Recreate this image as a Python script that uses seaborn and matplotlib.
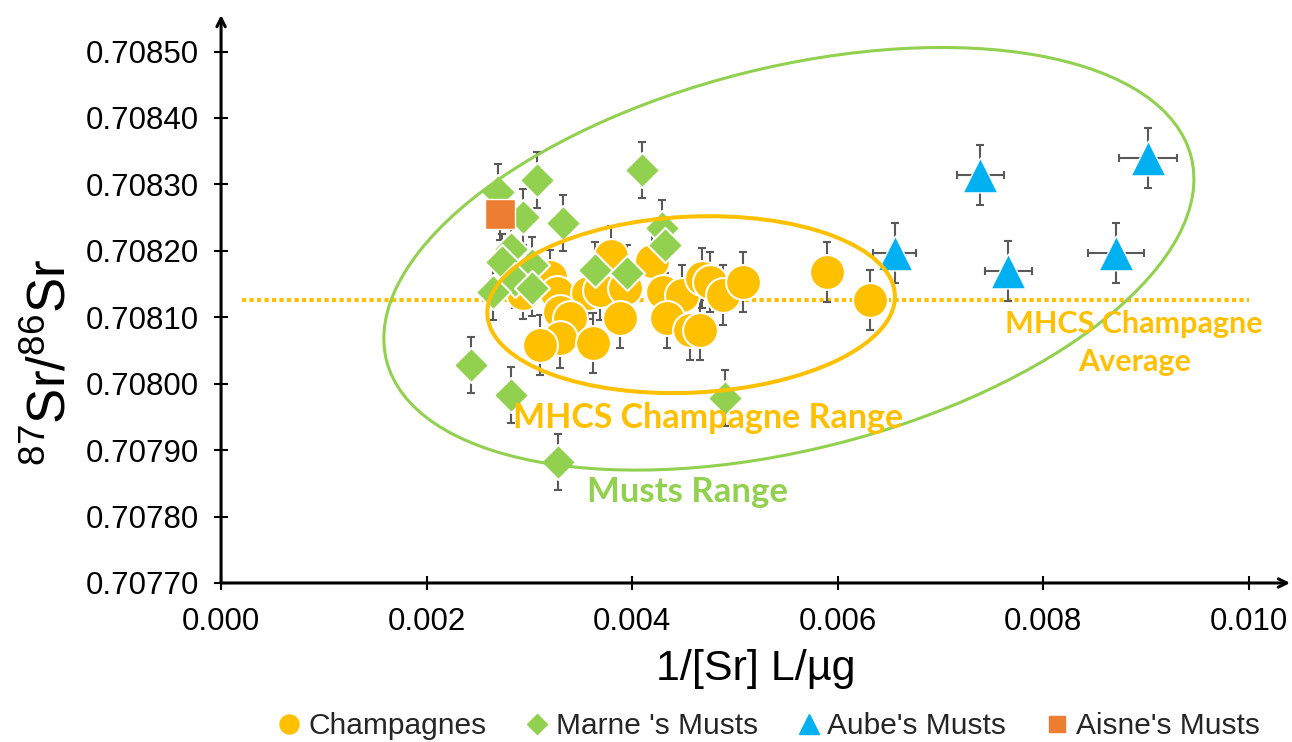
import matplotlib
matplotlib.use("Agg")
import matplotlib.pyplot as plt
import matplotlib.transforms as mtransforms
from matplotlib.patches import Ellipse
from matplotlib.lines import Line2D
import seaborn as sns

# ---- values ----
champ_x = [0.003796, 0.004194, 0.003204, 0.002942, 0.003272, 0.003573, 0.003689,
           0.003932, 0.003301, 0.003398, 0.003301, 0.003107, 0.003621, 0.003883,
           0.004301, 0.004485, 0.004680, 0.004757, 0.004883, 0.005078, 0.004340,
           0.004563, 0.004660, 0.005893, 0.006311]
champ_y = [0.708192, 0.708185, 0.708161, 0.708137, 0.708137, 0.708137, 0.708141,
           0.708144, 0.708108, 0.708099, 0.708069, 0.708058, 0.708061, 0.708099,
           0.708138, 0.708134, 0.708159, 0.708153, 0.708134, 0.708153, 0.708099,
           0.708081, 0.708081, 0.708168, 0.708126]
champ_yerr = [0.000045, 0.000045, 0.000040, 0.000040, 0.000045, 0.000040, 0.000045,
              0.000045, 0.000045, 0.000040, 0.000045, 0.000045, 0.000045, 0.000045,
              0.000045, 0.000045, 0.000045, 0.000045, 0.000045, 0.000045, 0.000045,
              0.000045, 0.000045, 0.000045, 0.000045]

marne_x = [0.004097, 0.003078, 0.002699, 0.002942, 0.003330, 0.004291, 0.004320,
           0.002816, 0.002738, 0.003029, 0.002864, 0.003029, 0.002650, 0.003641,
           0.003951, 0.002427, 0.002816, 0.004903, 0.003282]
marne_y = [0.708322, 0.708307, 0.708289, 0.708251, 0.708242, 0.708235, 0.708209,
           0.708202, 0.708183, 0.708179, 0.708156, 0.708144, 0.708138, 0.708171,
           0.708167, 0.708028, 0.707983, 0.707979, 0.707882]
marne_yerr = [0.000042, 0.000042, 0.000042, 0.000042, 0.000042, 0.000042, 0.000042,
              0.000042, 0.000042, 0.000042, 0.000042, 0.000042, 0.000042, 0.000042,
              0.000042, 0.000042, 0.000042, 0.000042, 0.000042]

aube_x = [0.006553, 0.007388, 0.007660, 0.008709, 0.009019]
aube_y = [0.708197, 0.708314, 0.708170, 0.708197, 0.708340]
aube_xerr = [0.00021, 0.00023, 0.00023, 0.00027, 0.00028]
aube_yerr = [0.000045, 0.000045, 0.000045, 0.000045, 0.000045]

aisne_x = [0.002718]
aisne_y = [0.708256]
aisne_yerr = [0.000040]

mhcs_average = 0.708126

x_ticks = [0.000, 0.002, 0.004, 0.006, 0.008, 0.010]
y_ticks = [0.70770, 0.70780, 0.70790, 0.70800, 0.70810,
           0.70820, 0.70830, 0.70840, 0.70850]

YELLOW = "#FFC000"
GREEN = "#92D050"
BLUE = "#00B0F0"
ORANGE = "#ED7D31"
GREY = "#595959"

sns.set_theme(style="white")
plt.rcParams["font.family"] = ["Liberation Sans", "DejaVu Sans"]
plt.rcParams["mathtext.default"] = "regular"

fig = plt.figure(figsize=(12.92, 7.42), dpi=100)
ax = fig.add_axes([0.1711, 0.2143, 0.8274, 0.7655])
ax.set_xlim(0, 0.0104)
ax.set_ylim(0.70770, 0.708555)

# average line
ax.hlines(mhcs_average, 0.0002, 0.0100, colors=YELLOW, lw=3,
          linestyles=(0, (1, 0.8)), zorder=1)

# error bars behind markers
err_kw = dict(fmt="none", ecolor=GREY, elinewidth=1.5, capsize=3, capthick=1.5, zorder=2)
ax.errorbar(champ_x, champ_y, yerr=champ_yerr, **err_kw)
ax.errorbar(marne_x, marne_y, yerr=marne_yerr, **err_kw)
ax.errorbar(aube_x, aube_y, xerr=aube_xerr, yerr=aube_yerr, **err_kw)
ax.errorbar(aisne_x, aisne_y, yerr=aisne_yerr, **err_kw)

sns.scatterplot(x=champ_x, y=champ_y, marker="o", s=630, color=YELLOW,
                edgecolor="white", linewidth=1.5, ax=ax, zorder=3)
sns.scatterplot(x=marne_x, y=marne_y, marker="D", s=320, color=GREEN,
                edgecolor="white", linewidth=1.5, ax=ax, zorder=3)
sns.scatterplot(x=aisne_x, y=aisne_y, marker="s", s=466, color=ORANGE,
                edgecolor="white", linewidth=1.0, ax=ax, zorder=3)
sns.scatterplot(x=aube_x, y=aube_y, marker="^", s=630, color=BLUE,
                edgecolor="white", linewidth=1.0, ax=ax, zorder=3)


# range ellipses, sized in pixels, centred in data units
def ring(cx, cy, half_w, half_h, angle, color, lw):
    tr = mtransforms.Affine2D() + mtransforms.ScaledTranslation(cx, cy, ax.transData)
    ax.add_patch(Ellipse((0, 0), 2 * half_w, 2 * half_h, angle=angle, transform=tr,
                         fill=False, ec=color, lw=lw, zorder=5))


ring(0.005524, 0.708188, 415, 191, 14.2, GREEN, 2.2)
ring(0.004573, 0.708119, 204, 88, 2.75, YELLOW, 2.9)

note_font = ["Lato", "DejaVu Sans"]
ax.text(0.004738, 0.707948, "MHCS Champagne Range", color=YELLOW, fontsize=24.5,
        fontweight="bold", family=note_font, ha="center", va="center", zorder=6)
ax.text(0.004534, 0.707837, "Musts Range", color=GREEN, fontsize=25,
        fontweight="bold", family=note_font, ha="center", va="center", zorder=6)
ax.text(0.008883, 0.708061, "MHCS Champagne\nAverage", color=YELLOW, fontsize=22,
        fontweight="bold", family=note_font, ha="center", va="center",
        linespacing=1.45, zorder=6)

# axes with arrow heads
for s in ax.spines.values():
    s.set_visible(False)
arrow = dict(arrowstyle="->,head_length=0.5,head_width=0.25", lw=2.2, color="black",
             shrinkA=0, shrinkB=0)
ax.annotate("", xy=(0, 1), xytext=(0, 0), xycoords="axes fraction", arrowprops=arrow,
            annotation_clip=False)
ax.annotate("", xy=(1, 0), xytext=(0, 0), xycoords="axes fraction", arrowprops=arrow,
            annotation_clip=False)

ax.set_xticks(x_ticks)
ax.set_xticklabels([f"{v:.3f}" for v in x_ticks])
ax.set_yticks(y_ticks)
ax.set_yticklabels([f"{v:.5f}" for v in y_ticks])
ax.tick_params(axis="both", direction="inout", length=10, width=1.5, color="black",
               labelsize=22.5, labelcolor="black", bottom=True, left=True)
ax.tick_params(axis="x", pad=12)
ax.tick_params(axis="y", pad=11)
ax.grid(False)

ax.set_xlabel("1/[Sr] L/µg", fontsize=31, color="black")
ax.xaxis.set_label_coords(0.5005, -0.116)
ax.set_ylabel("$^{87}$Sr/$^{86}$Sr", fontsize=38, color="black")
ax.yaxis.set_label_coords(-0.1356, 0.389)

handles = [
    Line2D([], [], ls="none", marker="o", ms=13.7, color=YELLOW),
    Line2D([], [], ls="none", marker="D", ms=10.2, color=GREEN),
    Line2D([], [], ls="none", marker="^", ms=14, color=BLUE),
    Line2D([], [], ls="none", marker="s", ms=11.5, color=ORANGE),
]
labels = ["Champagnes", "Marne 's Musts", "Aube's Musts", "Aisne's Musts"]
fig.legend(handles, labels, loc="center", bbox_to_anchor=(0.596, 0.0216), ncol=4,
           frameon=False, fontsize=21.5, handlelength=0.6, handletextpad=0.33,
           columnspacing=1.4, borderaxespad=0, borderpad=0)

fig.savefig("out.png", dpi=100)
